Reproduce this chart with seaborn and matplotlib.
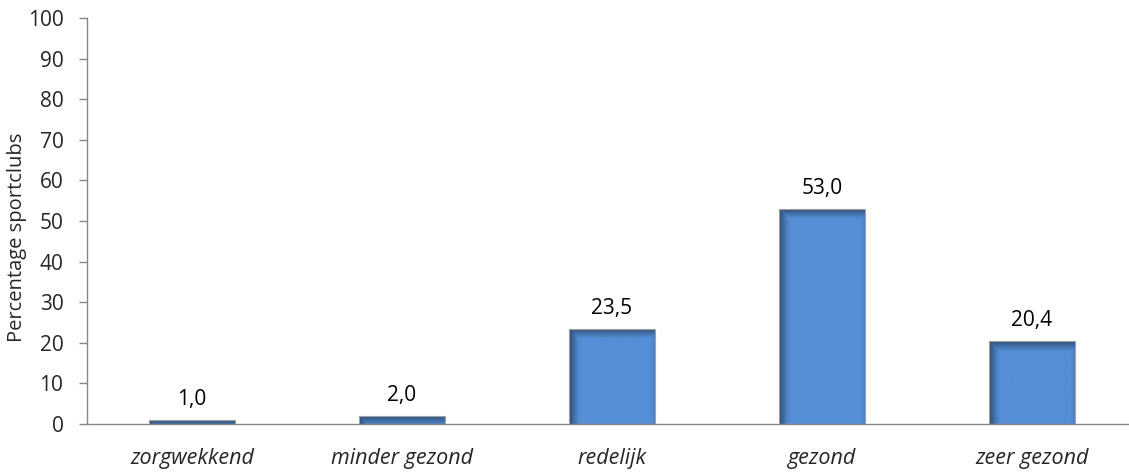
import numpy as np
import pandas as pd
import seaborn as sns
import matplotlib.pyplot as plt
from matplotlib.colors import to_rgb

categories = ['zorgwekkend', 'minder gezond', 'redelijk', 'gezond', 'zeer gezond']
percentages = [1.0, 2.0, 23.5, 53.0, 20.4]
yticks = list(range(0, 101, 10))

df = pd.DataFrame({'categorie': categories, 'percentage': percentages})

sns.set_style('white')
plt.rcParams['font.family'] = ['Open Sans', 'DejaVu Sans']

fig = plt.figure(figsize=(11.29, 4.73), dpi=100)
# axis runs slightly past the right edge, as in the original
ax = fig.add_axes([87 / 1129, 49 / 473, 1050 / 1129, 406 / 473])

sns.barplot(data=df, x='categorie', y='percentage', color='#558ED5', width=0.405,
            saturation=1, edgecolor='#A0A0A0', linewidth=0.8, ax=ax)

# gradient shading like the office chart (dark left edge and top)
main = np.array(to_rgb('#558ED5'))
dark = np.array(to_rgb('#2B4B72'))
for bar in ax.patches:
    x0, y0 = bar.get_x(), bar.get_y()
    w, h = bar.get_width(), bar.get_height()
    xs = np.linspace(0, 1, 200)
    ys = np.linspace(h, 0, 300)
    left = np.clip(1 - xs / 0.13, 0, 1) ** 1.3
    right = 0.2 * np.clip(1 - (1 - xs) / 0.05, 0, 1)
    top = np.clip(1 - (h - ys) / 2.6, 0, 1) ** 1.2
    t = np.maximum(np.maximum(left, right)[None, :], top[:, None])
    img = main * (1 - t[..., None]) + dark * t[..., None]
    im = ax.imshow(img, extent=(x0, x0 + w, y0, y0 + h), aspect='auto',
                   interpolation='bilinear', zorder=2)
    im.set_clip_path(bar)
    bar.set_facecolor('none')
    bar.set_zorder(3)

labels = [f'{v:.1f}'.replace('.', ',') for v in percentages]
ax.bar_label(ax.containers[0], labels=labels, padding=7, fontsize=15, color='black')

ax.set_xlim(-0.5, 4.5)
ax.set_ylim(0, 100)
ax.set_yticks(yticks)
ax.set_yticklabels([str(t) for t in yticks], fontsize=15)
ax.set_xticks(range(len(categories)))
ax.set_xticklabels(categories, fontsize=15.5, style='italic')
ax.set_xticks(np.arange(-0.5, 5, 1), minor=True)
ax.tick_params(axis='x', which='major', length=0, pad=17)
ax.tick_params(axis='x', which='minor', length=5, width=1, color='#868686', direction='out')
ax.tick_params(axis='y', length=6, width=1, color='#868686', direction='out', pad=11, left=True)

ax.set_xlabel('')
ax.set_ylabel('Percentage sportclubs', fontsize=14.5)
ax.yaxis.set_label_coords(-0.057, 0.46)

sns.despine(ax=ax)
for s in ['left', 'bottom']:
    ax.spines[s].set_color('#868686')
    ax.spines[s].set_linewidth(1)

fig.savefig('out.png', dpi=100)
